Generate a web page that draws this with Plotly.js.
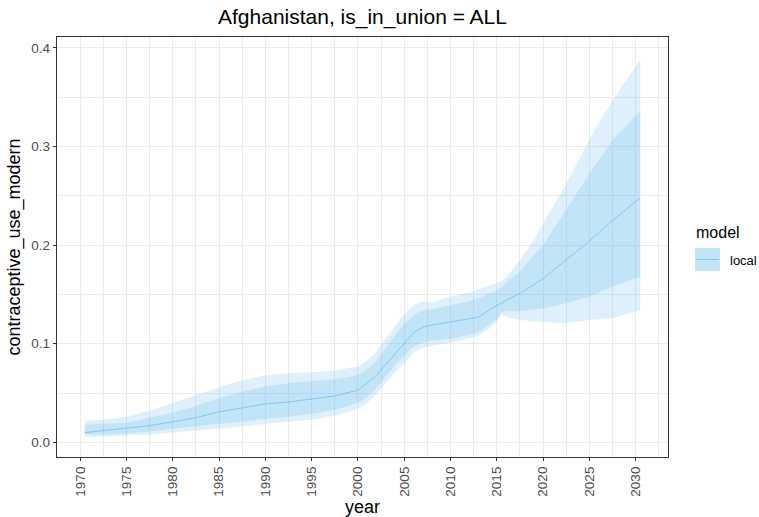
<!DOCTYPE html>
<html>
<head>
<meta charset="utf-8">
<script src="https://cdn.plot.ly/plotly-3.0.1.min.js"></script>
<style>html,body{margin:0;padding:0;background:#fff;}#chart{width:759px;height:517px;}</style>
</head>
<body>
<div id="chart"></div>
<script>
// ---- data ----
const years = [1970.5, 1972.5, 1975, 1977.5, 1980, 1982.5, 1985, 1987.5, 1990, 1992.5, 1995, 1997.5,
  2000, 2001, 2002, 2003, 2004, 2005, 2006, 2007, 2008, 2010, 2012, 2013, 2014, 2015, 2015.5, 2016,
  2017.5, 2019, 2020, 2022.5, 2025, 2027.5, 2030.5];
const median = [0.010, 0.012, 0.014, 0.017, 0.021, 0.025, 0.031, 0.035, 0.039, 0.041, 0.044, 0.047,
  0.053, 0.060, 0.068, 0.079, 0.090, 0.101, 0.111, 0.117, 0.119, 0.122, 0.125, 0.127, 0.133, 0.139, 0.141, 0.144,
  0.151, 0.160, 0.166, 0.185, 0.204, 0.225, 0.248];
const upper95 = [0.022, 0.023, 0.026, 0.032, 0.040, 0.048, 0.056, 0.063, 0.068, 0.070, 0.071, 0.073,
  0.077, 0.083, 0.092, 0.105, 0.118, 0.130, 0.139, 0.143, 0.142, 0.148, 0.152, 0.155, 0.158, 0.161, 0.163, 0.167,
  0.185, 0.205, 0.222, 0.262, 0.307, 0.347, 0.388];
const upper80 = [0.018, 0.019, 0.020, 0.025, 0.030, 0.037, 0.045, 0.051, 0.057, 0.060, 0.062, 0.064,
  0.068, 0.074, 0.083, 0.096, 0.108, 0.120, 0.129, 0.134, 0.135, 0.139, 0.143, 0.146, 0.150, 0.154, 0.157, 0.162,
  0.173, 0.190, 0.200, 0.236, 0.272, 0.306, 0.336];
const lower80 = [0.008, 0.008, 0.009, 0.011, 0.014, 0.016, 0.019, 0.021, 0.024, 0.026, 0.029, 0.033,
  0.040, 0.046, 0.055, 0.067, 0.078, 0.088, 0.097, 0.101, 0.103, 0.105, 0.109, 0.112, 0.118, 0.125, 0.132, 0.133,
  0.133, 0.135, 0.136, 0.141, 0.148, 0.158, 0.168];
const lower95 = [0.006, 0.006, 0.007, 0.008, 0.010, 0.012, 0.014, 0.016, 0.019, 0.021, 0.023, 0.027,
  0.034, 0.040, 0.049, 0.060, 0.071, 0.080, 0.091, 0.096, 0.098, 0.101, 0.105, 0.108, 0.114, 0.122, 0.130, 0.127,
  0.124, 0.123, 0.122, 0.121, 0.124, 0.126, 0.134];
const xTickVals = [1970, 1975, 1980, 1985, 1990, 1995, 2000, 2005, 2010, 2015, 2020, 2025, 2030];
const xTickText = ["1970", "1975", "1980", "1985", "1990", "1995", "2000", "2005", "2010", "2015", "2020", "2025", "2030"];
const yTickVals = [0.0, 0.1, 0.2, 0.3, 0.4];
const yTickText = ["0.0", "0.1", "0.2", "0.3", "0.4"];
const modelName = "local";

// ---- styles ----
const bandFill = "rgba(86,180,233,0.2)";
const lineCol = "rgba(86,180,233,0.6)";
const grid = "#ebebeb";
const font = "Liberation Sans, Arial, sans-serif";

const traces = [
  {x: years, y: lower95, type: "scatter", mode: "lines", line: {width: 0}, showlegend: false, hoverinfo: "skip"},
  {x: years, y: upper95, type: "scatter", mode: "lines", line: {width: 0}, fill: "tonexty", fillcolor: bandFill, showlegend: false, hoverinfo: "skip"},
  {x: years, y: lower80, type: "scatter", mode: "lines", line: {width: 0}, showlegend: false, hoverinfo: "skip"},
  {x: years, y: upper80, type: "scatter", mode: "lines", line: {width: 0}, fill: "tonexty", fillcolor: bandFill, showlegend: false, hoverinfo: "skip"},
  {x: years, y: median, type: "scatter", mode: "lines", name: modelName, line: {color: lineCol, width: 1}, showlegend: false}
];

// legend placed in paper coordinates (plot area 57..668 x 37..457 px)
const pw = 611, ph = 420;
const px = v => (v - 57) / pw;
const py = v => (457 - v) / ph;

const layout = {
  width: 759, height: 517,
  margin: {l: 57, r: 91, t: 37, b: 60},
  paper_bgcolor: "#ffffff", plot_bgcolor: "#ffffff",
  font: {family: font, color: "#4d4d4d"},
  title: {text: "Afghanistan, is_in_union = ALL", font: {family: font, size: 21, color: "#000000"},
          x: 0.5, xref: "paper", xanchor: "center", y: 1 - 17 / 517, yref: "container", yanchor: "middle"},
  showlegend: false,
  xaxis: {
    range: [1967.5, 2033.5],
    tickmode: "array", tickvals: xTickVals, ticktext: xTickText, tickangle: -90,
    ticks: "outside", ticklen: 3, tickcolor: "#333333", tickwidth: 1,
    tickfont: {size: 13.5, color: "#4d4d4d", family: font},
    showgrid: true, gridcolor: grid, gridwidth: 1, zeroline: false,
    minor: {tick0: 1967.5, dtick: 5, showgrid: true, gridcolor: grid, gridwidth: 1, ticks: ""},
    showline: true, mirror: true, linecolor: "#333333", linewidth: 1.2,
    title: {text: "year", font: {size: 18, color: "#000000", family: font}, standoff: 4},
    automargin: false
  },
  yaxis: {
    range: [-0.0148, 0.411],
    tickmode: "array", tickvals: yTickVals, ticktext: yTickText,
    ticks: "outside", ticklen: 3, tickcolor: "#333333", tickwidth: 1,
    tickfont: {size: 13.5, color: "#4d4d4d", family: font},
    showgrid: true, gridcolor: grid, gridwidth: 1, zeroline: false,
    minor: {tick0: 0.05, dtick: 0.1, showgrid: true, gridcolor: grid, gridwidth: 1, ticks: ""},
    showline: true, mirror: true, linecolor: "#333333", linewidth: 1.2,
    title: {text: "contraceptive_use_modern", font: {size: 18, color: "#000000", family: font}, standoff: 6},
    automargin: false
  },
  shapes: [
    {type: "rect", xref: "paper", yref: "paper", x0: px(695), x1: px(720), y0: py(271), y1: py(248),
     fillcolor: "rgba(86,180,233,0.36)", line: {width: 0}},
    {type: "line", xref: "paper", yref: "paper", x0: px(696), x1: px(719), y0: py(259.5), y1: py(259.5),
     line: {color: lineCol, width: 1}}
  ],
  annotations: [
    {text: "model", xref: "paper", yref: "paper", x: px(694), y: py(232), xanchor: "left", yanchor: "middle",
     showarrow: false, font: {size: 16, color: "#000000", family: font}},
    {text: modelName, xref: "paper", yref: "paper", x: px(728), y: py(260), xanchor: "left", yanchor: "middle",
     showarrow: false, font: {size: 13, color: "#000000", family: font}}
  ]
};

Plotly.newPlot("chart", traces, layout, {staticPlot: true, displayModeBar: false});
</script>
</body>
</html>
